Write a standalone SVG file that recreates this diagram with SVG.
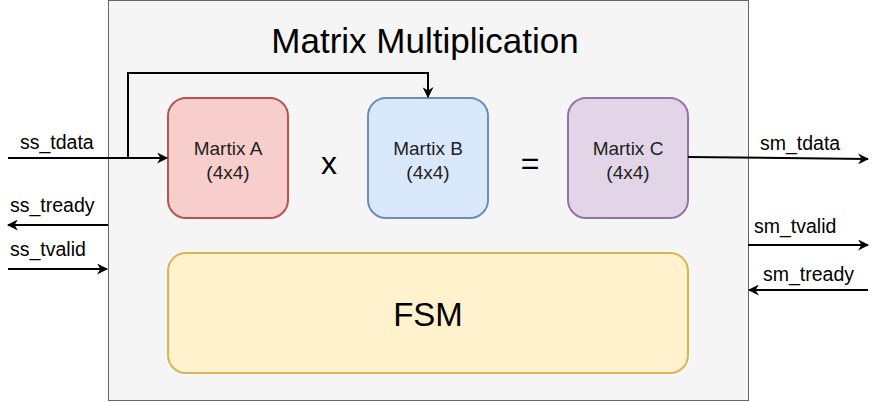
<svg xmlns="http://www.w3.org/2000/svg" width="877" height="402" viewBox="0 0 877 402">
<defs>
<style>
text{font-family:"Liberation Sans",Arial,sans-serif;fill:#000}
.lbl{font-size:19.5px}
.node{font-size:19px;fill:#222;text-anchor:middle}
.ln{fill:none;stroke:#000;stroke-width:2}
</style>
<marker id="ah" viewBox="0 0 10 10" refX="9" refY="5" markerWidth="11" markerHeight="11" markerUnits="userSpaceOnUse" orient="auto">
<path d="M0,0 L10,5 L0,10 L3,5 Z" fill="#000"/>
</marker>
</defs>
<rect width="877" height="402" fill="#fff"/>
<g id="module">
<rect x="108.5" y="0.5" width="640" height="400" fill="#f5f5f5" stroke="#666" stroke-width="1"/>
<text x="425" y="53" font-size="35" text-anchor="middle">Matrix Multiplication</text>
</g>
<g id="matA">
<rect x="168" y="98" width="120" height="120" rx="18" fill="#f8cecc" stroke="#b85450" stroke-width="2"/>
<text class="node" x="228" y="155">Martix A</text>
<text class="node" x="228" y="179">(4x4)</text>
</g>
<g id="matB">
<rect x="368" y="98" width="120" height="120" rx="18" fill="#dae8fc" stroke="#6c8ebf" stroke-width="2"/>
<text class="node" x="428" y="155">Martix B</text>
<text class="node" x="428" y="179">(4x4)</text>
</g>
<g id="matC">
<rect x="568" y="98" width="120" height="120" rx="18" fill="#e1d5e7" stroke="#9673a6" stroke-width="2"/>
<text class="node" x="628" y="155">Martix C</text>
<text class="node" x="628" y="179">(4x4)</text>
</g>
<g id="ops">
<text x="329" y="174" font-size="32" text-anchor="middle">x</text>
<text x="530" y="174" font-size="32" text-anchor="middle">=</text>
</g>
<g id="fsm">
<rect x="168" y="253" width="520" height="120" rx="18" fill="#fff2cc" stroke="#d6b656" stroke-width="2"/>
<text x="428" y="326" font-size="33" text-anchor="middle">FSM</text>
</g>
<g id="connectors">
<path class="ln" d="M8,158 L167,158" marker-end="url(#ah)"/>
<path class="ln" d="M128,158 L128,73 L428,73 L428,97" marker-end="url(#ah)"/>
<path class="ln" d="M108,225 L8,225" marker-end="url(#ah)"/>
<path class="ln" d="M8,269 L107,269" marker-end="url(#ah)"/>
<path class="ln" d="M688,157 L868,159" marker-end="url(#ah)"/>
<path class="ln" d="M748,245 L868,245" marker-end="url(#ah)"/>
<path class="ln" d="M868,290 L749,290" marker-end="url(#ah)"/>
</g>
<g id="labels">
<text class="lbl" x="20" y="149">ss_tdata</text>
<text class="lbl" x="10" y="212">ss_tready</text>
<text class="lbl" x="10" y="256">ss_tvalid</text>
<text class="lbl" x="760" y="150">sm_tdata</text>
<text class="lbl" x="754" y="233">sm_tvalid</text>
<text class="lbl" x="763" y="281">sm_tready</text>
</g>
</svg>
